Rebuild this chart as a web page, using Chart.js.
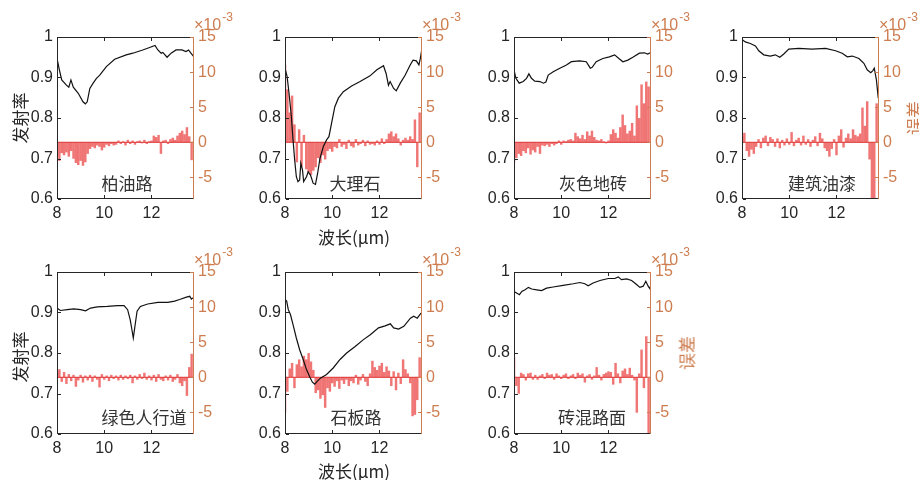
<!DOCTYPE html>
<html>
<head>
<meta charset="utf-8">
<script src="https://cdn.jsdelivr.net/npm/chart.js@4.4.1/dist/chart.umd.min.js"></script>
<style>
  body { margin: 0; width: 919px; height: 480px; background: #fff; position: relative; overflow: hidden; font-family: "Noto Sans CJK SC", sans-serif; }
  canvas.panel { position: absolute; }
  .tag { position: absolute; font-size: 17px; color: #333; transform: translate(-50%, -50%); white-space: nowrap; }
  .vtitle { position: absolute; font-size: 17px; transform: translate(-50%, -50%) rotate(-90deg); white-space: nowrap; }
</style>
</head>
<body>
<script>
// wavelength (um) of the error bars, shared by all panels
const errWl = [8.0, 8.1, 8.2, 8.3, 8.4, 8.5, 8.6, 8.7, 8.8, 8.9,
  9.0, 9.1, 9.2, 9.3, 9.4, 9.5, 9.6, 9.7, 9.8, 9.9,
  10.0, 10.1, 10.2, 10.3, 10.4, 10.5, 10.6, 10.7, 10.8, 10.9,
  11.0, 11.1, 11.2, 11.3, 11.4, 11.5, 11.6, 11.7, 11.8, 11.9,
  12.0, 12.1, 12.2, 12.3, 12.4, 12.5, 12.6, 12.7, 12.8, 12.9,
  13.0, 13.1, 13.2, 13.3, 13.4, 13.5, 13.6, 13.7];

// 柏油路
const asphaltWl = [8.0, 8.1, 8.2, 8.4, 8.5, 8.59, 8.69, 8.9, 9.1, 9.2, 9.28, 9.39, 9.53, 9.67, 9.81, 10.09, 10.44, 10.93, 11.21, 11.63, 11.92, 12.15, 12.27, 12.41, 12.48, 12.66, 12.83, 13.04, 13.29, 13.46, 13.57, 13.67, 13.77];
const asphaltEm = [0.947, 0.919, 0.894, 0.881, 0.876, 0.894, 0.876, 0.861, 0.84, 0.835, 0.84, 0.873, 0.886, 0.898, 0.906, 0.927, 0.945, 0.956, 0.96, 0.968, 0.974, 0.979, 0.968, 0.96, 0.962, 0.95, 0.96, 0.968, 0.968, 0.964, 0.968, 0.96, 0.953];
const asphaltErr = [-1.9, -2.6, -1.5, -1.8, -1.4, -2.0, -1.2, -2.3, -2.9, -3.2,
  -2.6, -3.3, -2.8, -1.6, -0.9, -0.6, -0.8, -0.4, -0.6, -1.1,
  -0.7, -0.3, -0.5, -0.2, -0.4, -0.3, 0.2, -0.2, 0.1, -0.4,
  0.3, -0.2, 0.2, -0.3, 0.1, 0.2, -0.1, 0.3, -0.2, 0.1,
  0.2, 0.9, 0.7, 1.0, -1.6, 0.2, 0.3, -0.2, 0.4, 0.6,
  0.3, 0.9, 1.3, 1.6, 1.1, 2.1, 0.8, -2.5];

// 大理石
const marbleWl = [8.0, 8.09, 8.17, 8.27, 8.34, 8.41, 8.48, 8.55, 8.62, 8.67, 8.74, 8.79, 8.91, 8.98, 9.08, 9.19, 9.29, 9.38, 9.48, 9.62, 9.76, 9.86, 9.97, 10.11, 10.26, 10.47, 10.82, 11.18, 11.6, 11.89, 12.17, 12.28, 12.38, 12.45, 12.6, 12.71, 12.88, 13.09, 13.3, 13.42, 13.56, 13.67, 13.73, 13.8];
const marbleEm = [0.923, 0.902, 0.861, 0.803, 0.746, 0.696, 0.655, 0.643, 0.647, 0.688, 0.672, 0.643, 0.655, 0.667, 0.659, 0.639, 0.636, 0.663, 0.7, 0.729, 0.746, 0.754, 0.787, 0.828, 0.849, 0.865, 0.879, 0.89, 0.904, 0.919, 0.929, 0.91, 0.881, 0.89, 0.873, 0.867, 0.886, 0.906, 0.931, 0.943, 0.941, 0.931, 0.947, 0.972];
const marbleErr = [11.0, 7.5, 4.2, 6.6, 2.5, -2.8, 1.8, -3.4, 1.0, -3.8,
  -4.2, -4.6, -4.0, -3.5, -2.2, -2.9, -1.8, -2.4, -1.2, -0.9,
  -1.3, -0.6, -0.8, 0.4, -0.6, -0.3, -0.9, 0.3, -0.5, -0.7,
  0.4, -0.4, -0.2, 0.3, -0.5, 0.2, -0.3, -0.2, -0.4, 0.2,
  -0.3, 0.5, -0.2, 0.4, 1.2, 1.5, 0.8, 1.2, 0.5, -0.4,
  0.3, 0.6, 0.3, 0.8, 0.4, 3.2, -3.5, 4.2];

// 灰色地砖
const grayTileWl = [8.0, 8.08, 8.22, 8.39, 8.53, 8.63, 8.74, 8.88, 9.1, 9.24, 9.35, 9.45, 9.66, 9.94, 10.22, 10.43, 10.78, 11.06, 11.23, 11.31, 11.48, 11.76, 12.04, 12.26, 12.44, 12.61, 12.82, 13.03, 13.31, 13.52, 13.66, 13.77];
const grayTileEm = [0.919, 0.898, 0.886, 0.89, 0.898, 0.909, 0.898, 0.891, 0.89, 0.886, 0.889, 0.906, 0.914, 0.923, 0.931, 0.939, 0.941, 0.939, 0.923, 0.925, 0.939, 0.947, 0.951, 0.956, 0.947, 0.939, 0.943, 0.95, 0.96, 0.961, 0.958, 0.961];
const grayTileErr = [-2.8, -2.2, -1.6, -1.9, -1.2, -1.5, -0.8, -1.7, -1.1, -1.4,
  -0.6, -1.6, -0.4, -0.5, -0.3, -0.6, -0.2, -0.4, -0.2, 0.2,
  -0.3, 0.2, 0.1, 0.3, 0.4, 0.2, 1.3, 0.8, 0.5, 1.0,
  0.4, 1.5, 0.9, 1.6, 0.7, 0.3, 0.2, 0.4, 0.1, -0.1,
  0.2, 1.1, 1.8, 1.3, 0.6, 2.1, 3.9, 2.4, 1.2, 1.6,
  2.7, 0.9, 5.2, 3.4, 8.2, 5.5, 8.6, 7.9];

// 建筑油漆
const paintWl = [8.0, 8.14, 8.35, 8.57, 8.71, 8.92, 9.2, 9.41, 9.6, 9.77, 9.98, 10.4, 10.97, 11.54, 11.96, 12.24, 12.46, 12.67, 12.95, 13.16, 13.3, 13.45, 13.54, 13.6, 13.69, 13.77];
const paintEm = [0.994, 0.988, 0.984, 0.978, 0.966, 0.956, 0.953, 0.956, 0.95, 0.958, 0.97, 0.972, 0.97, 0.972, 0.966, 0.96, 0.951, 0.953, 0.947, 0.935, 0.919, 0.912, 0.917, 0.923, 0.894, 0.849];
const paintErr = [0.8, 1.3, -1.2, -2.0, -1.0, -1.6, -0.6, 0.4, -0.8, 0.6,
  0.9, -0.5, 0.7, 0.4, -0.6, 0.5, -0.8, 0.3, -0.4, 0.5,
  -0.3, 1.4, -0.5, 0.3, 0.6, -0.4, 0.9, -0.3, 0.4, -0.6,
  0.3, 0.8, -0.5, 1.3, 0.5, -0.8, -1.2, -2.0, -0.9, 0.4,
  -1.8, 0.9, 1.8, -0.7, 0.6, 1.2, 0.5, 1.8, 1.0, 0.8,
  1.2, 4.9, 2.3, 5.8, -2.4, -8.0, -8.0, 5.5];

// 绿色人行道
const greenWalkWl = [8.0, 8.14, 8.43, 8.71, 9.0, 9.21, 9.42, 9.71, 10.13, 10.56, 10.84, 10.99, 11.1, 11.17, 11.23, 11.3, 11.39, 11.53, 11.84, 12.27, 12.69, 12.98, 13.19, 13.48, 13.62, 13.69, 13.8];
const greenWalkEm = [0.911, 0.905, 0.907, 0.909, 0.907, 0.904, 0.911, 0.914, 0.915, 0.917, 0.917, 0.907, 0.882, 0.858, 0.837, 0.866, 0.903, 0.915, 0.921, 0.925, 0.925, 0.928, 0.932, 0.938, 0.94, 0.933, 0.938];
const greenWalkErr = [0.9, 1.1, -0.6, 0.7, -0.9, 0.4, -0.5, 0.3, -1.3, -0.4,
  0.3, -0.7, 0.2, -0.4, 0.3, -0.6, 0.2, -0.3, -1.4, 0.4,
  -0.3, 0.2, -0.5, 0.3, -0.2, 0.2, -0.4, 0.3, -0.3, 0.2,
  -0.2, 0.3, -0.8, 0.2, -0.3, 0.4, -0.2, 0.6, -0.3, 0.2,
  -0.4, 0.3, -0.6, 0.4, -0.3, -0.5, 0.2, -0.4, 0.3, -0.6,
  -0.3, 0.4, -0.8, -1.2, -0.5, -2.6, 1.4, 3.3];

// 石板路
const slateWl = [8.0, 8.07, 8.14, 8.23, 8.34, 8.48, 8.62, 8.77, 8.91, 9.05, 9.16, 9.26, 9.36, 9.5, 9.76, 10.04, 10.33, 10.61, 10.97, 11.32, 11.61, 11.96, 12.24, 12.46, 12.6, 12.81, 13.03, 13.31, 13.45, 13.6, 13.74, 13.8];
const slateEm = [0.932, 0.928, 0.907, 0.895, 0.87, 0.837, 0.808, 0.784, 0.759, 0.741, 0.728, 0.723, 0.73, 0.738, 0.747, 0.763, 0.784, 0.8, 0.816, 0.833, 0.845, 0.862, 0.867, 0.872, 0.862, 0.859, 0.866, 0.886, 0.891, 0.886, 0.897, 0.9];
const slateErr = [-5.0, -2.0, 1.2, 2.0, -1.5, 1.8, 2.5, 1.5, 3.0, 2.5,
  3.4, 2.2, 1.0, -2.2, -1.8, -3.0, -2.5, -4.3, -1.5, -2.0,
  -0.8, -1.3, -0.5, -1.6, -0.4, -0.9, -0.3, -1.2, -0.5, -0.8,
  0.3, -1.0, -0.4, 0.4, -0.6, -1.2, 0.5, 2.3, 1.4, 1.0,
  1.6, 2.0, 0.7, 1.5, 0.9, -1.2, 0.8, -1.8, 0.6, -0.9,
  2.5, 1.1, 0.5, -0.8, -5.5, -5.3, -3.2, 2.8];

// 砖混路面
const brickWl = [8.0, 8.11, 8.23, 8.33, 8.47, 8.61, 8.75, 8.96, 9.17, 9.38, 9.66, 10.08, 10.51, 10.79, 11.0, 11.14, 11.35, 11.64, 11.99, 12.27, 12.41, 12.55, 12.77, 12.98, 13.19, 13.33, 13.47, 13.58, 13.68, 13.75, 13.8];
const brickEm = [0.952, 0.948, 0.944, 0.952, 0.956, 0.962, 0.958, 0.956, 0.954, 0.96, 0.963, 0.967, 0.971, 0.974, 0.971, 0.966, 0.973, 0.979, 0.984, 0.984, 0.988, 0.981, 0.983, 0.979, 0.969, 0.962, 0.965, 0.977, 0.965, 0.959, 0.969];
const brickErr = [2.8, -1.2, -2.3, 0.6, 0.4, -0.4, 0.5, 0.6, -0.3, 0.3,
  -0.3, 0.2, 0.4, -0.2, 0.6, 0.3, 0.4, -0.3, 0.5, 0.2,
  -0.2, 0.3, 0.5, -0.2, 0.2, 0.4, -0.2, 0.6, 0.3, 0.5,
  -0.7, 0.2, 0.4, -0.3, 0.2, 1.4, 0.3, -0.4, 0.4, 0.6,
  0.8, 0.7, -1.0, 2.0, 0.5, -0.8, 0.9, 1.2, 0.4, 1.3,
  0.3, -0.4, -5.0, 0.5, 3.9, -1.5, 5.8, -8.0];

const xTicks = [8, 10, 12];
const emTicks = [0.6, 0.7, 0.8, 0.9, 1];
const errTicks = [-5, 0, 5, 10, 15];   // in units of 10^-3

const ORANGE = '#cd7d50';
const AXIS = '#262626';
const TICKFONT = { family: '"Liberation Sans", Arial, sans-serif', size: 16 };
const PL = 48, PR = 48, PT = 32, PB = 28, PW = 137, PH = 162;

// panel placement: plot-box left/top in page pixels
const panels = [
  { name: '柏油路', wl: asphaltWl, em: asphaltEm, err: asphaltErr, left: 57, top: 37, tag: [127, 182] },
  { name: '大理石', wl: marbleWl, em: marbleEm, err: marbleErr, left: 285, top: 37, tag: [355, 182] },
  { name: '灰色地砖', wl: grayTileWl, em: grayTileEm, err: grayTileErr, left: 514, top: 37, tag: [593, 182] },
  { name: '建筑油漆', wl: paintWl, em: paintEm, err: paintErr, left: 742, top: 37, tag: [822, 182] },
  { name: '绿色人行道', wl: greenWalkWl, em: greenWalkEm, err: greenWalkErr, left: 57, top: 272, tag: [144, 416] },
  { name: '石板路', wl: slateWl, em: slateEm, err: slateErr, left: 285, top: 272, tag: [356, 416] },
  { name: '砖混路面', wl: brickWl, em: brickEm, err: brickErr, left: 514, top: 272, tag: [592, 416] }
];

// box, inward ticks and the x10^-3 exponent, MATLAB style (filled rects, crisp 1px)
const frame = {
  id: 'frame',
  afterDraw(chart) {
    const { ctx, chartArea: a, scales } = chart;
    const l = Math.round(a.left), r = Math.round(a.right), t = Math.round(a.top), b = Math.round(a.bottom);
    ctx.save();
    ctx.fillStyle = AXIS;
    ctx.fillRect(l, t, r - l, 1);
    ctx.fillRect(l, b - 1, r - l, 1);
    ctx.fillRect(l, t, 1, b - t);
    xTicks.forEach(v => {
      const px = Math.round(scales.x.getPixelForValue(v));
      ctx.fillRect(px, b - 4, 1, 3);
      ctx.fillRect(px, t + 1, 1, 3);
    });
    emTicks.forEach(v => {
      const py = Math.round(scales.y.getPixelForValue(v));
      ctx.fillRect(l + 1, py, 3, 1);
    });
    ctx.fillStyle = ORANGE;
    ctx.fillRect(r - 1, t, 1, b - t);
    errTicks.forEach(v => {
      const py = Math.round(scales.y2.getPixelForValue(v));
      ctx.fillRect(r - 4, py, 3, 1);
    });
    ctx.textBaseline = 'alphabetic';
    ctx.textAlign = 'left';
    ctx.font = '16px "Liberation Sans", Arial';
    ctx.fillText('×10', a.right, a.top - 7);
    const w = ctx.measureText('×10').width;
    ctx.font = '12px "Liberation Sans", Arial';
    ctx.fillText('-3', a.right + w + 1, a.top - 16);
    ctx.restore();
  }
};

function setTicks(list) {
  return s => { s.ticks = list.map(v => ({ value: v })); };
}

panels.forEach(p => {
  const cv = document.createElement('canvas');
  cv.className = 'panel';
  const w = PL + PW + PR, h = PT + PH + PB;
  cv.width = w; cv.height = h;
  cv.style.width = w + 'px'; cv.style.height = h + 'px';
  cv.style.left = (p.left - PL) + 'px';
  cv.style.top = (p.top - PT) + 'px';
  document.body.appendChild(cv);

  new Chart(cv, {
    data: {
      datasets: [
        {
          type: 'line',
          data: p.wl.map((x, i) => ({ x: x, y: p.em[i] })),
          yAxisID: 'y',
          borderColor: '#111',
          borderWidth: 1.2,
          pointRadius: 0,
          tension: 0,
          order: 0
        },
        {
          type: 'line',
          data: [{ x: 8, y: 0 }, { x: 13.8, y: 0 }],
          yAxisID: 'y2',
          borderColor: '#e03c3c',
          borderWidth: 1,
          pointRadius: 0,
          order: 1
        },
        {
          type: 'bar',
          data: errWl.map((x, i) => ({ x: x, y: p.err[i] })),
          yAxisID: 'y2',
          backgroundColor: 'rgba(230, 25, 25, 0.6)',
          borderWidth: 0,
          barThickness: 1.8,
          order: 2
        }
      ]
    },
    options: {
      responsive: false,
      animation: false,
      layout: { padding: { top: PT, left: 0, right: 0, bottom: 0 } },
      plugins: { legend: { display: false }, tooltip: { enabled: false } },
      scales: {
        x: {
          type: 'linear', min: 8, max: 13.8, offset: false,
          afterBuildTicks: setTicks(xTicks),
          afterFit: s => { s.height = PB; },
          grid: { display: false, drawTicks: false, offset: false },
          border: { display: false },
          ticks: { font: TICKFONT, color: AXIS, padding: 5, maxRotation: 0, autoSkip: false, callback: v => String(v) }
        },
        y: {
          type: 'linear', position: 'left', min: 0.6, max: 1,
          afterBuildTicks: setTicks(emTicks),
          afterFit: s => { s.width = PL; },
          grid: { display: false, drawTicks: false },
          border: { display: false },
          ticks: { font: TICKFONT, color: AXIS, padding: 4, callback: v => String(v) }
        },
        y2: {
          type: 'linear', position: 'right', min: -8.08, max: 15,
          afterBuildTicks: setTicks(errTicks),
          afterFit: s => { s.width = PR; },
          grid: { display: false, drawTicks: false },
          border: { display: false },
          ticks: { font: TICKFONT, color: ORANGE, padding: 4, callback: v => String(v) }
        }
      }
    },
    plugins: [frame]
  });

  const tag = document.createElement('div');
  tag.className = 'tag';
  tag.textContent = p.name;
  tag.style.left = p.tag[0] + 'px';
  tag.style.top = p.tag[1] + 'px';
  document.body.appendChild(tag);
});

// axis titles
[
  ['发射率', 19, 118, AXIS], ['发射率', 19, 357, AXIS],
  ['误差', 913, 118, ORANGE], ['误差', 686, 353, ORANGE]
].forEach(([t, x, y, c]) => {
  const d = document.createElement('div');
  d.className = 'vtitle';
  d.textContent = t;
  d.style.left = x + 'px'; d.style.top = y + 'px'; d.style.color = c;
  document.body.appendChild(d);
});
[[354, 236], [354, 470]].forEach(([x, y]) => {
  const d = document.createElement('div');
  d.className = 'tag';
  d.style.color = AXIS;
  d.textContent = '波长(μm)';
  d.style.left = x + 'px'; d.style.top = y + 'px';
  document.body.appendChild(d);
});
</script>
</body>
</html>
